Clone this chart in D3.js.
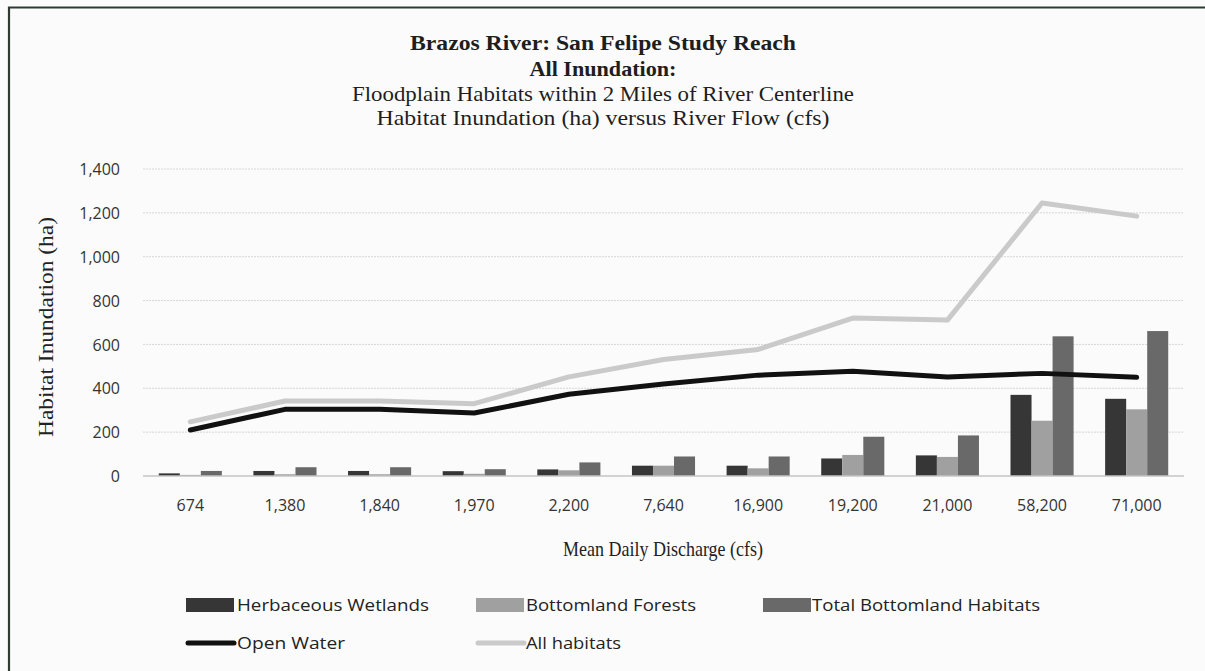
<!DOCTYPE html>
<html>
<head>
<meta charset="utf-8">
<script src="https://cdn.jsdelivr.net/npm/d3@7"></script>
<style>
  html, body { margin: 0; padding: 0; background: #fbfbfb; }
  svg { display: block; }
</style>
</head>
<body>
<svg id="chart" width="1205" height="671"></svg>
<script>
// ---- data ----
const categories = ["674", "1,380", "1,840", "1,970", "2,200", "7,640", "16,900", "19,200", "21,000", "58,200", "71,000"];
const herbaceousWetlands = [12, 23, 23, 22, 30, 47, 47, 80, 94, 370, 352];
const bottomlandForests = [5, 8, 8, 10, 26, 47, 35, 96, 87, 252, 304];
const totalBottomland = [23, 40, 40, 31, 62, 89, 89, 179, 185, 637, 661];
const openWater = [210, 304, 304, 287, 373, 420, 460, 478, 452, 468, 450];
const allHabitats = [247, 342, 342, 330, 452, 531, 577, 720, 711, 1245, 1185];
const yTicks = [0, 200, 400, 600, 800, 1000, 1200, 1400];
const titleLines = ["Brazos River: San Felipe Study Reach", "All Inundation:", "Floodplain Habitats within 2 Miles of River Centerline", "Habitat Inundation (ha) versus River Flow (cfs)"];
const barSeries = ["Herbaceous Wetlands", "Bottomland Forests", "Total Bottomland Habitats"];
const lineSeries = ["Open Water", "All habitats"];

const barData = [herbaceousWetlands, bottomlandForests, totalBottomland];
const barColors = ["#363636", "#a0a0a0", "#696969"];
const lineData = [openWater, allHabitats];
const lineColors = ["#111111", "#cacaca"];

const svg = d3.select("#chart");

// frame
svg.append("rect").attr("x", 0).attr("y", 0).attr("width", 1205).attr("height", 671).attr("fill", "#fbfbfb");
svg.append("path").attr("d", "M9,671 L9,7.5 L1205,7.5").attr("fill", "none").attr("stroke", "#2f3a33").attr("stroke-width", 2.2);

const plotLeft = 143, plotRight = 1184, plotTop = 169, plotBottom = 476;

const x = d3.scaleBand().domain(categories).range([plotLeft, plotRight]).paddingInner(0).paddingOuter(0);
const xSub = d3.scaleBand().domain(d3.range(3)).range([0, x.bandwidth()]).paddingInner(0).paddingOuter(0.75);
const y = d3.scaleLinear().domain([0, 1400]).range([plotBottom, plotTop]);

// gridlines
svg.append("g").selectAll("line").data(yTicks.filter(d => d > 0)).join("line")
  .attr("x1", plotLeft).attr("x2", plotRight)
  .attr("y1", d => y(d)).attr("y2", d => y(d))
  .attr("stroke", "#d6d6d6").attr("stroke-width", 1).attr("stroke-dasharray", "2,1");

// y axis labels
const yAxis = d3.axisLeft(y).tickValues(yTicks).tickFormat(d3.format(",")).tickSize(0).tickPadding(0);
const gy = svg.append("g").attr("transform", `translate(120,0)`).call(yAxis);
gy.select(".domain").remove();
gy.selectAll("text").attr("font-family", "Open Sans").attr("font-size", 16).attr("fill", "#333").attr("dy", "0.35em");

// bars
barData.forEach((vals, si) => {
  svg.append("g").selectAll("rect").data(vals).join("rect")
    .attr("x", (d, i) => x(categories[i]) + xSub(si))
    .attr("width", xSub.bandwidth())
    .attr("y", d => y(d))
    .attr("height", d => y(0) - y(d))
    .attr("fill", barColors[si]);
});

// baseline
svg.append("line").attr("x1", plotLeft).attr("x2", plotRight).attr("y1", y(0)).attr("y2", y(0))
  .attr("stroke", "#c4c4c4").attr("stroke-width", 1.5);

// lines
const lineGen = d3.line().x((d, i) => x(categories[i]) + x.bandwidth() / 2).y(d => y(d));
[1, 0].forEach(si => {
  svg.append("path").datum(lineData[si]).attr("d", lineGen)
    .attr("fill", "none").attr("stroke", lineColors[si]).attr("stroke-width", 5)
    .attr("stroke-linejoin", "round").attr("stroke-linecap", "round");
});

// x axis labels
const xAxis = d3.axisBottom(x).tickSize(0).tickPadding(0);
const gx = svg.append("g").attr("transform", `translate(0,505)`).call(xAxis);
gx.select(".domain").remove();
gx.selectAll("text").attr("font-family", "Open Sans").attr("font-size", 16).attr("fill", "#333").attr("dy", "0.35em");

// titles
const titleSpecs = [
  {y: 50, size: 22, weight: "bold", len: 386},
  {y: 76, size: 22, weight: "bold", len: 147},
  {y: 101, size: 22, weight: "normal", len: 502},
  {y: 125, size: 22, weight: "normal", len: 453}
];
titleLines.forEach((t, i) => {
  svg.append("text").attr("x", 603).attr("y", titleSpecs[i].y)
    .attr("text-anchor", "middle")
    .attr("font-family", "Liberation Serif").attr("font-size", titleSpecs[i].size)
    .attr("font-weight", titleSpecs[i].weight).attr("fill", "#1e1e1e")
    .attr("textLength", titleSpecs[i].len).attr("lengthAdjust", "spacingAndGlyphs")
    .text(t);
});

// axis titles
svg.append("text").attr("x", 663).attr("y", 556).attr("text-anchor", "middle")
  .attr("font-family", "Liberation Serif").attr("font-size", 22).attr("fill", "#222")
  .attr("textLength", 200).attr("lengthAdjust", "spacingAndGlyphs")
  .text("Mean Daily Discharge (cfs)");
svg.append("text").attr("transform", "translate(53,327) rotate(-90)").attr("text-anchor", "middle")
  .attr("font-family", "Liberation Serif").attr("font-size", 22).attr("fill", "#222")
  .attr("textLength", 220).attr("lengthAdjust", "spacingAndGlyphs")
  .text("Habitat Inundation (ha)");

// legend
const legendItems = [
  {label: barSeries[0], type: "bar", color: barColors[0], sx: 186, tx: 237, y: 605, len: 192},
  {label: barSeries[1], type: "bar", color: barColors[1], sx: 476, tx: 526, y: 605, len: 170},
  {label: barSeries[2], type: "bar", color: barColors[2], sx: 763, tx: 812, y: 605, len: 228},
  {label: lineSeries[0], type: "line", color: lineColors[0], sx: 186, tx: 237, y: 643, len: 108},
  {label: lineSeries[1], type: "line", color: lineColors[1], sx: 476, tx: 526, y: 643, len: 95}
];
legendItems.forEach(it => {
  if (it.type === "bar") {
    svg.append("rect").attr("x", it.sx).attr("y", it.y - 7).attr("width", 48).attr("height", 14).attr("fill", it.color);
  } else {
    svg.append("line").attr("x1", it.sx + 2).attr("x2", it.sx + 48).attr("y1", it.y).attr("y2", it.y)
      .attr("stroke", it.color).attr("stroke-width", 5).attr("stroke-linecap", "round");
  }
  svg.append("text").attr("x", it.tx).attr("y", it.y).attr("dy", "0.35em")
    .attr("font-family", "Open Sans").attr("font-size", 17).attr("fill", "#222")
    .attr("textLength", it.len).attr("lengthAdjust", "spacingAndGlyphs")
    .text(it.label);
});
</script>
</body>
</html>
